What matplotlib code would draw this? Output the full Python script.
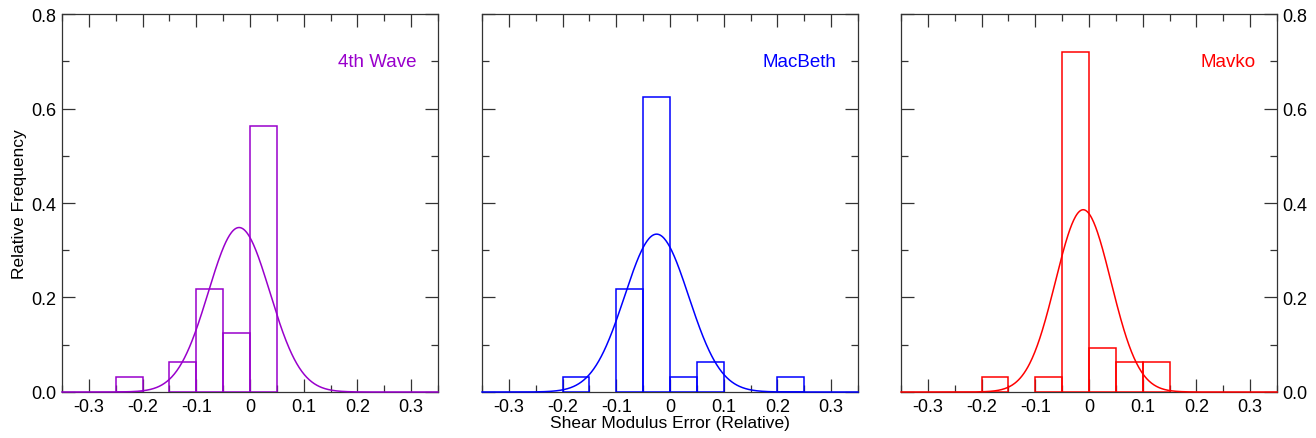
import numpy as np
import matplotlib.pyplot as plt
from matplotlib.ticker import MultipleLocator, FuncFormatter

plt.rcParams['font.family'] = ['Liberation Sans', 'DejaVu Sans']

# bin left edges (width 0.05) and relative frequencies
bin_width = 0.05
names = ['4th Wave', 'MacBeth', 'Mavko']
colores = ['#9900CC', '#0000FF', '#FF0000']

edges_4th = [-0.25, -0.15, -0.10, -0.05, 0.00]
freq_4th = [0.03125, 0.0625, 0.21875, 0.125, 0.5625]

edges_mac = [-0.20, -0.10, -0.05, 0.00, 0.05, 0.20]
freq_mac = [0.03125, 0.21875, 0.625, 0.03125, 0.0625, 0.03125]

edges_mav = [-0.20, -0.10, -0.05, 0.00, 0.05, 0.10]
freq_mav = [0.03125, 0.03125, 0.71875, 0.09375, 0.0625, 0.0625]

# fitted normal curves: mean, std
media = [-0.0203, -0.025, -0.0109]
sigma = [0.0573, 0.0597, 0.0517]

edges_all = [edges_4th, edges_mac, edges_mav]
freq_all = [freq_4th, freq_mac, freq_mav]

fig = plt.figure(figsize=(13.16, 4.39), dpi=100)
lefts = [0.0471, 0.3663, 0.6847]
axs = [fig.add_axes([l, 0.1048, 0.2857, 0.861]) for l in lefts]

def fmt(v, pos):
    if abs(v) < 1e-9:
        return '0'
    return '%.1f' % v

xs = np.linspace(-0.35, 0.35, 600)
for i, ax in enumerate(axs):
    c = colores[i]
    ax.bar(edges_all[i], freq_all[i], width=bin_width, align='edge',
           fill=False, edgecolor=c, linewidth=1.1, zorder=3)
    gauss = bin_width / (sigma[i] * np.sqrt(2 * np.pi)) * np.exp(-0.5 * ((xs - media[i]) / sigma[i]) ** 2)
    ax.plot(xs, gauss, color=c, linewidth=1.1, zorder=4, clip_on=False)
    ax.text(0.31, 0.70, names[i], color=c, fontsize=13.5, ha='right', va='center')

    ax.set_xlim(-0.35, 0.35)
    ax.set_ylim(0, 0.8)
    ax.xaxis.set_major_locator(MultipleLocator(0.1))
    ax.xaxis.set_minor_locator(MultipleLocator(0.05))
    ax.yaxis.set_major_locator(MultipleLocator(0.2))
    ax.yaxis.set_minor_locator(MultipleLocator(0.1))
    ax.xaxis.set_major_formatter(FuncFormatter(fmt))
    ax.tick_params(which='both', direction='in', top=True, right=True,
                   labelsize=13, color='#333333')
    ax.tick_params(which='major', length=9.4, width=0.9, pad=4)
    ax.tick_params(which='minor', length=5, width=0.9)
    for s in ax.spines.values():
        s.set_linewidth(0.9)
        s.set_color('#333333')

axs[0].yaxis.set_major_formatter(FuncFormatter(lambda v, p: '%.1f' % v))
axs[0].set_ylabel('Relative Frequency', fontsize=12.5, labelpad=3)
axs[1].tick_params(labelleft=False)
axs[1].set_xlabel('Shear Modulus Error (Relative)', fontsize=12.5, labelpad=0)
axs[2].tick_params(labelleft=False, labelright=True)
axs[2].yaxis.set_major_formatter(FuncFormatter(lambda v, p: '%.1f' % v))

plt.savefig('out.png', dpi=100)
